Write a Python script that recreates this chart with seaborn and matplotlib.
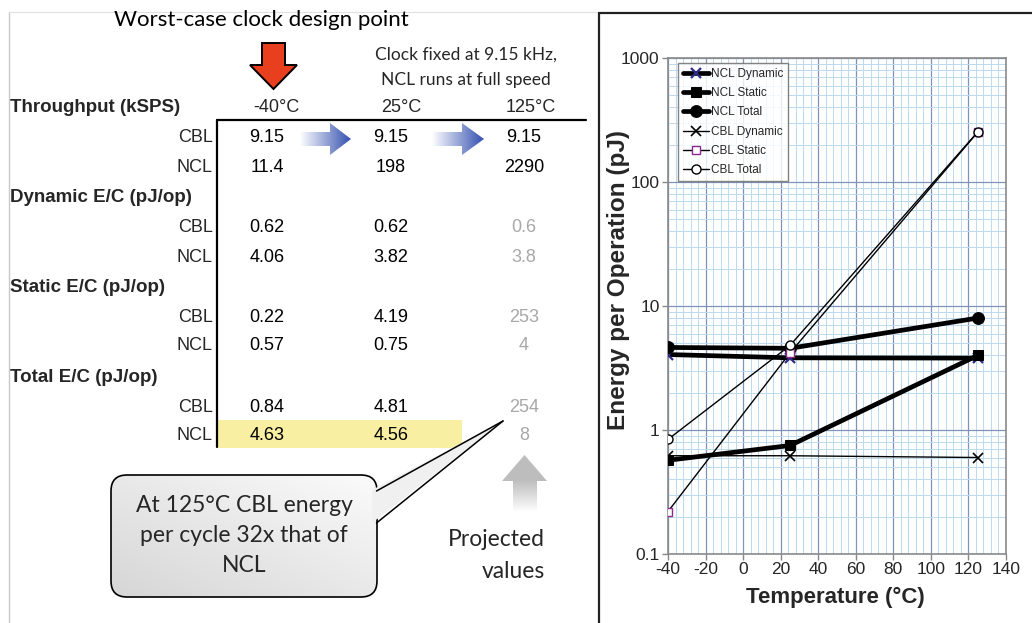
import numpy as np
import pandas as pd
import matplotlib
matplotlib.use("Agg")
import matplotlib.pyplot as plt
import seaborn as sns
from matplotlib.patches import Polygon, FancyBboxPatch
from matplotlib.colors import LinearSegmentedColormap
from matplotlib.ticker import MultipleLocator, LogLocator, FixedLocator, NullFormatter

# ---------------- data ----------------
temps = [-40, 25, 125]
temp_labels = ["-40°C", "25°C", "125°C"]
row_labels = ["CBL", "NCL"]
section_titles = ["Throughput (kSPS)", "Dynamic E/C (pJ/op)", "Static E/C (pJ/op)", "Total E/C (pJ/op)"]

throughput_cbl = [9.15, 9.15, 9.15]
throughput_ncl = [11.4, 198, 2290]
dyn_cbl = [0.62, 0.62, 0.6]
dyn_ncl = [4.06, 3.82, 3.8]
stat_cbl = [0.22, 4.19, 253]
stat_ncl = [0.57, 0.75, 4]
tot_cbl = [0.84, 4.81, 254]
tot_ncl = [4.63, 4.56, 8]

series_names = ["NCL Dynamic", "NCL Static", "NCL Total", "CBL Dynamic", "CBL Static", "CBL Total"]
series_values = [dyn_ncl, stat_ncl, tot_ncl, dyn_cbl, stat_cbl, tot_cbl]

x_ticks = [-40, -20, 0, 20, 40, 60, 80, 100, 120, 140]
y_ticks = [0.1, 1, 10, 100, 1000]
y_tick_labels = ["0.1", "1", "10", "100", "1000"]

# ---------------- setup ----------------
sns.set_style("white")
ARIAL = ["Liberation Sans", "DejaVu Sans"]
CALIBRI = ["Lato", "DejaVu Sans"]
plt.rcParams["font.family"] = ARIAL
plt.rcParams["axes.unicode_minus"] = False

W, H = 1032, 623
fig = plt.figure(figsize=(W / 100, H / 100), dpi=100)
fig.patch.set_facecolor("white")

# overlay in pixel coordinates for the slide (left panel)
ax0 = fig.add_axes([0, 0, 1, 1], zorder=0)
ax0.set_axis_off()


def grad_fill(pts, c0, c1, vertical=False, z=3):
    patch = Polygon(pts, closed=True, facecolor="none", edgecolor="none", zorder=z)
    ax0.add_patch(patch)
    xs = [p[0] for p in pts]
    ys = [p[1] for p in pts]
    ext = (min(xs), max(xs), max(ys), min(ys))
    g = np.linspace(0, 1, 256)
    img = g[:, None] if vertical else g[None, :]
    cmap = LinearSegmentedColormap.from_list("g", [c0, c1])
    im = ax0.imshow(img, extent=ext, cmap=cmap, aspect="auto", origin="upper",
                    zorder=z, interpolation="bilinear")
    im.set_clip_path(patch)


# panel frames
ax0.plot([9, 9], [12, 623], color="#c8c8c8", lw=1.0, zorder=1)
ax0.plot([9, 599], [12, 12], color="#e0e0e0", lw=0.8, zorder=1)
ax0.plot([599, 599], [13, 623], color="#222222", lw=1.6, zorder=1)
ax0.plot([599, 1032], [13, 13], color="#222222", lw=1.6, zorder=1)

# titles
ax0.text(261, 20, "Worst-case clock design point", family=CALIBRI, fontsize=16,
         ha="center", va="center", color="black")
ax0.text(466, 55, "Clock fixed at 9.15 kHz,", family=CALIBRI, fontsize=12.5,
         ha="center", va="center")
ax0.text(466, 80, "NCL runs at full speed", family=CALIBRI, fontsize=12.5,
         ha="center", va="center")

# red arrow
red = Polygon([(262, 43), (285, 43), (285, 65), (297, 65), (273.5, 89), (250, 65), (262, 65)],
              closed=True, facecolor="#E8401E", edgecolor="black", lw=1.4, zorder=4)
ax0.add_patch(red)

# yellow highlight
ax0.add_patch(Polygon([(218, 420), (462, 420), (462, 448), (218, 448)], closed=True,
                      facecolor="#F8EFA2", edgecolor="none", zorder=1))

# table lines
ax0.plot([217, 586], [120, 120], color="black", lw=1.6, zorder=3)
ax0.plot([217, 217], [120, 447], color="black", lw=1.6, zorder=3)

# table text
title_y = [108, 198, 287, 377]
col_x = [267, 391, 524]
head_x = [276, 401, 531]
section_data = [(throughput_cbl, throughput_ncl), (dyn_cbl, dyn_ncl),
                (stat_cbl, stat_ncl), (tot_cbl, tot_ncl)]
for k, (title, ty, rows) in enumerate(zip(section_titles, title_y, section_data)):
    ax0.text(10, ty, title, fontsize=13.5, fontweight="bold", ha="left", va="center", zorder=5)
    for r, (lab, vals) in enumerate(zip(row_labels, rows)):
        ry = ty + 30 + r * 29
        ax0.text(213, ry, lab, fontsize=13, ha="right", va="center", zorder=5)
        for c, v in enumerate(vals):
            col = "black" if (c < 2 or k == 0) else "#A8A8A8"
            ax0.text(col_x[c], ry, f"{v:g}", fontsize=13, ha="center", va="center",
                     color=col, zorder=5)
for hx, hl in zip(head_x, temp_labels):
    ax0.text(hx, title_y[0], hl, fontsize=13, ha="center", va="center", zorder=5)

# blue chevron arrows
for x0, xh, x1 in [(300, 330, 351), (432, 462, 484)]:
    grad_fill([(x0, 132), (xh, 132), (xh, 123), (x1, 139), (xh, 155), (xh, 146), (x0, 146)],
              "#ffffff", "#3450B0", z=3)

# gray up arrow (projected)
ax0.add_patch(Polygon([(502, 481), (524.5, 455), (547, 481)], closed=True,
                      facecolor="#BDBDBD", edgecolor="none", zorder=3))
grad_fill([(513, 480), (537, 480), (537, 512), (513, 512)], "#BDBDBD", "#ffffff",
          vertical=True, z=3)
ax0.text(545, 540, "Projected", family=CALIBRI, fontsize=16.5, ha="right", va="center")
ax0.text(545, 572, "values", family=CALIBRI, fontsize=16.5, ha="right", va="center")

# callout
box = FancyBboxPatch((111, 475), 266, 122, boxstyle="round,pad=0,rounding_size=16",
                     facecolor="none", edgecolor="black", lw=1.2, zorder=4)
ax0.add_patch(box)
clip_box = FancyBboxPatch((111, 475), 266, 122, boxstyle="round,pad=0,rounding_size=16",
                          facecolor="none", edgecolor="none", zorder=2)
ax0.add_patch(clip_box)
g = np.linspace(0, 1, 200)
diag = (g[None, :] + (1 - g[:, None])) / 2.0
cmap = LinearSegmentedColormap.from_list("c", ["#d6d6d6", "#fbfbfb"])
im = ax0.imshow(diag, extent=(111, 377, 597, 475), cmap=cmap, aspect="auto",
                origin="upper", zorder=2, interpolation="bilinear")
im.set_clip_path(clip_box)
ax0.add_patch(Polygon([(372, 490), (503, 421), (372, 523)], closed=True,
                      facecolor="#f0f0f0", edgecolor="none", zorder=5))
ax0.plot([376.5, 503], [491, 421], color="black", lw=1.1, zorder=6)
ax0.plot([376.5, 503], [523, 421], color="black", lw=1.1, zorder=6)
for ly, line in zip([505, 535, 565], ["At 125°C CBL energy", "per cycle 32x that of", "NCL"]):
    ax0.text(244, ly, line, family=CALIBRI, fontsize=16.5, ha="center", va="center", zorder=7)

ax0.set_xlim(0, W)
ax0.set_ylim(H, 0)

# ---------------- chart ----------------
L, R, T, B = 668, 1006, 58, 554
ax = fig.add_axes([L / W, 1 - B / H, (R - L) / W, (B - T) / H], zorder=2)
ax.set_facecolor("white")

styles = [
    dict(color="black", linewidth=3.4, marker="x", markersize=7, markeredgewidth=1.6,
         markeredgecolor="#2F2A86"),
    dict(color="black", linewidth=3.4, marker="s", markersize=7.5, markeredgecolor="black",
         markerfacecolor="black"),
    dict(color="black", linewidth=3.4, marker="o", markersize=8.5, markeredgecolor="black",
         markerfacecolor="black"),
    dict(color="black", linewidth=1.0, marker="x", markersize=6.5, markeredgewidth=1.2,
         markeredgecolor="black"),
    dict(color="black", linewidth=1.0, marker="s", markersize=6, markeredgewidth=1.0,
         markeredgecolor="#8B2A8B", markerfacecolor="white"),
    dict(color="black", linewidth=1.0, marker="o", markersize=6.5, markeredgewidth=1.0,
         markeredgecolor="black", markerfacecolor="white"),
]
for name, vals, st in zip(series_names, series_values, styles):
    df = pd.DataFrame({"Temperature": temps, "Energy": vals})
    sns.lineplot(data=df, x="Temperature", y="Energy", ax=ax, label=name, zorder=4, **st)

ax.set_yscale("log")
ax.set_xlim(-40, 140)
ax.set_ylim(0.1, 1000)
ax.xaxis.set_major_locator(FixedLocator(x_ticks))
ax.xaxis.set_minor_locator(MultipleLocator(4))
ax.yaxis.set_major_locator(FixedLocator(y_ticks))
ax.set_yticklabels(y_tick_labels)
ax.yaxis.set_minor_locator(LogLocator(base=10, subs=np.arange(2, 10)))
ax.yaxis.set_minor_formatter(NullFormatter())
ax.grid(which="minor", color="#BCD9EE", lw=0.7, zorder=0)
ax.grid(which="major", color="#7F93B6", lw=0.9, zorder=0)
ax.set_axisbelow(True)
ax.tick_params(which="major", direction="out", length=4, width=1, color="#888888",
               labelsize=12.5, pad=2, left=True, bottom=True)
ax.tick_params(which="minor", length=0)
for s in ax.spines.values():
    s.set_color("#8a8a8a")
    s.set_linewidth(1.2)

ax.set_xlabel("Temperature (°C)", fontsize=16, fontweight="bold")
ax.set_ylabel("Energy per Operation (pJ)", fontsize=17.5, fontweight="bold")
ax.xaxis.set_label_coords((835 - L) / (R - L), -(587 - B) / (B - T))
ax.yaxis.set_label_coords((630 - L) / (R - L), (B - 280) / (B - T))

leg = ax.legend(loc="upper left", bbox_to_anchor=(0.03, 0.99), borderaxespad=0,
                fontsize=8.5, frameon=True, fancybox=False, edgecolor="#666666",
                handlelength=2.2, handletextpad=0.15, labelspacing=0.62, borderpad=0.4)
leg.get_frame().set_linewidth(1.0)
leg.set_zorder(10)

fig.savefig("out.png", dpi=100, facecolor="white")
